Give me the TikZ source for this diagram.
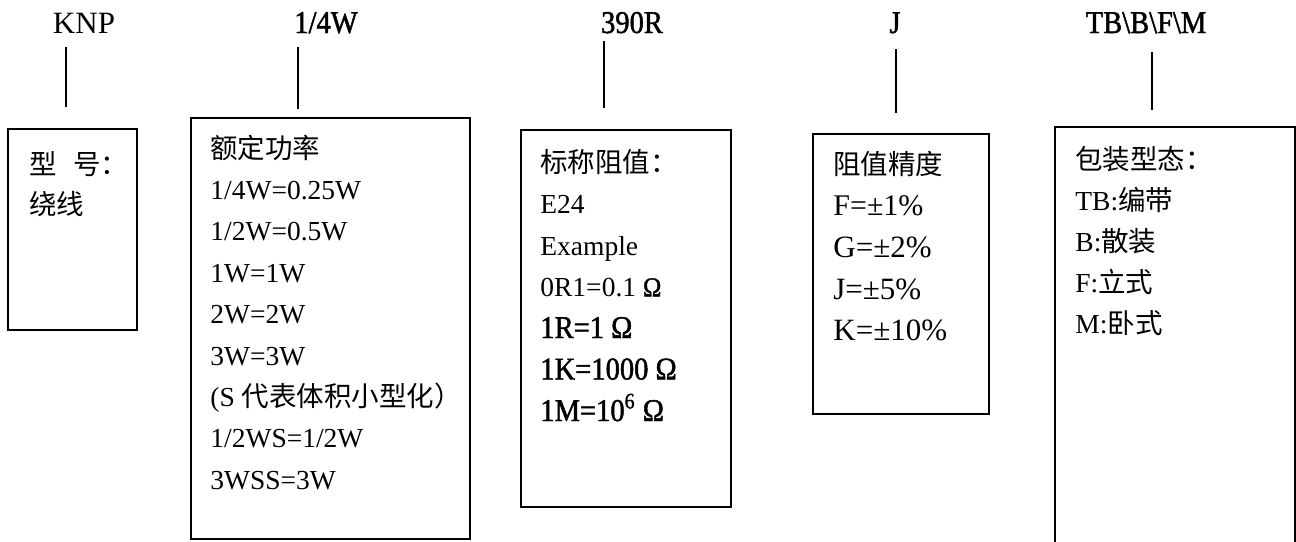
\documentclass[tikz,border=0pt]{standalone}
\usepackage{fontspec}
\setmainfont{Liberation Serif}
\newfontfamily\cjk{Noto Sans CJK SC}
\newfontfamily\simlatin[FakeStretch=0.9,FakeBold=1.5]{Liberation Serif}
\newcommand{\zh}[1]{{\cjk #1}}
\newcommand{\bigrow}[1]{{\simlatin\fontsize{15.85}{18}\selectfont #1}}
\newcommand{\tolsize}[1]{{\fontsize{15.5}{18}\selectfont #1}}
\newcommand{\smallpar}{(S \zh{代表体积小型化）}}
\usetikzlibrary{positioning}
\tikzstyle{partno} = [draw=none, fill=none, anchor=base, inner sep=0pt, font=\simlatin\fontsize{15.85}{18}\selectfont]
\tikzstyle{specbox} = [rectangle, draw, line width=0.75pt, anchor=north west, inner sep=0pt]
\tikzstyle{row} = [anchor=base west, inner sep=0pt, font=\fontsize{13.75}{16}\selectfont]
\tikzstyle{lead} = [draw, line width=1pt]

\begin{document}
\begin{tikzpicture}[x=0.5pt, y=-0.5pt]
	\useasboundingbox (0,0) rectangle (1296,541);
	% title nodes
	\node [partno, font=\fontsize{15.5}{18}\selectfont] (knp) at (84,33) {KNP};
	\node [partno] (power) at (326,33) {1/4W};
	\node [partno] (value) at (632,33) {390R};
	\node [partno] (tol)   at (895,33) {J};
	\node [partno] (pack)  at (1146,33) {TB\textbackslash B\textbackslash F\textbackslash M};

	% place boxes
	\node [specbox, minimum width=64.5pt, minimum height=100.5pt] (typebox)  at (7,128) {};
	\node [specbox, minimum width=139.5pt, minimum height=210.5pt] (powerbox) at (190,117) {};
	\node [specbox, minimum width=105pt, minimum height=188.5pt] (valuebox) at (520,129) {};
	\node [specbox, minimum width=88pt, minimum height=140pt] (tolbox)   at (812,133) {};
	\node [specbox, minimum width=120pt, minimum height=217pt] (packbox)  at (1054,126) {};

	% box texts
	\node [row] (type1) at (29,174) {\zh{型\hspace{0.6em}号：}};
	\node [row] (type2) at (29,214) {\zh{绕线}};
	\foreach \txt [count=\i] in {\zh{额定功率}, {1/4W=0.25W}, {1/2W=0.5W}, 1W=1W, 2W=2W, 3W=3W,
		\smallpar, {1/2WS=1/2W}, 3WSS=3W}
		\node [row] (power\i) at (210,{158+41.4*(\i-1)}) {\txt};
	\foreach \txt [count=\i] in {\zh{标称阻值：}, E24, Example, 0R1=0.1 {\simlatin Ω},
		\bigrow{1R=1 Ω}, \bigrow{1K=1000 Ω}, \bigrow{1M=10\textsuperscript{6} Ω}}
		\node [row] (value\i) at (540,{172+41.5*(\i-1)}) {\txt};
	\foreach \txt [count=\i] in {\zh{阻值精度}, {\fontsize{15}{18}\selectfont F=±1\%},
		\tolsize{G=±2\%}, \tolsize{J=±5\%}, \tolsize{K=±10\%}}
		\node [row] (tol\i) at (833,{174+41.7*(\i-1)}) {\txt};
	\foreach \txt [count=\i] in {\zh{包装型态：}, TB:\zh{编带}, B:\zh{散装}, F:\zh{立式}, M:\zh{卧式}}
		\node [row] (pack\i) at (1075,{169+41*(\i-1)}) {\txt};

	% lead ends
	\coordinate (knp a)   at (66,47);   \coordinate (knp b)   at (66,107);
	\coordinate (power a) at (298,47);  \coordinate (power b) at (298,109);
	\coordinate (value a) at (604,41);  \coordinate (value b) at (604,108);
	\coordinate (tol a)   at (896,49);  \coordinate (tol b)   at (896,113);
	\coordinate (pack a)  at (1152,52); \coordinate (pack b)  at (1152,110);

	% draw edges
	\path [lead] (knp a) -- (knp b);
	\path [lead] (power a) -- (power b);
	\path [lead] (value a) -- (value b);
	\path [lead] (tol a) -- (tol b);
	\path [lead] (pack a) -- (pack b);
\end{tikzpicture}
\end{document}
